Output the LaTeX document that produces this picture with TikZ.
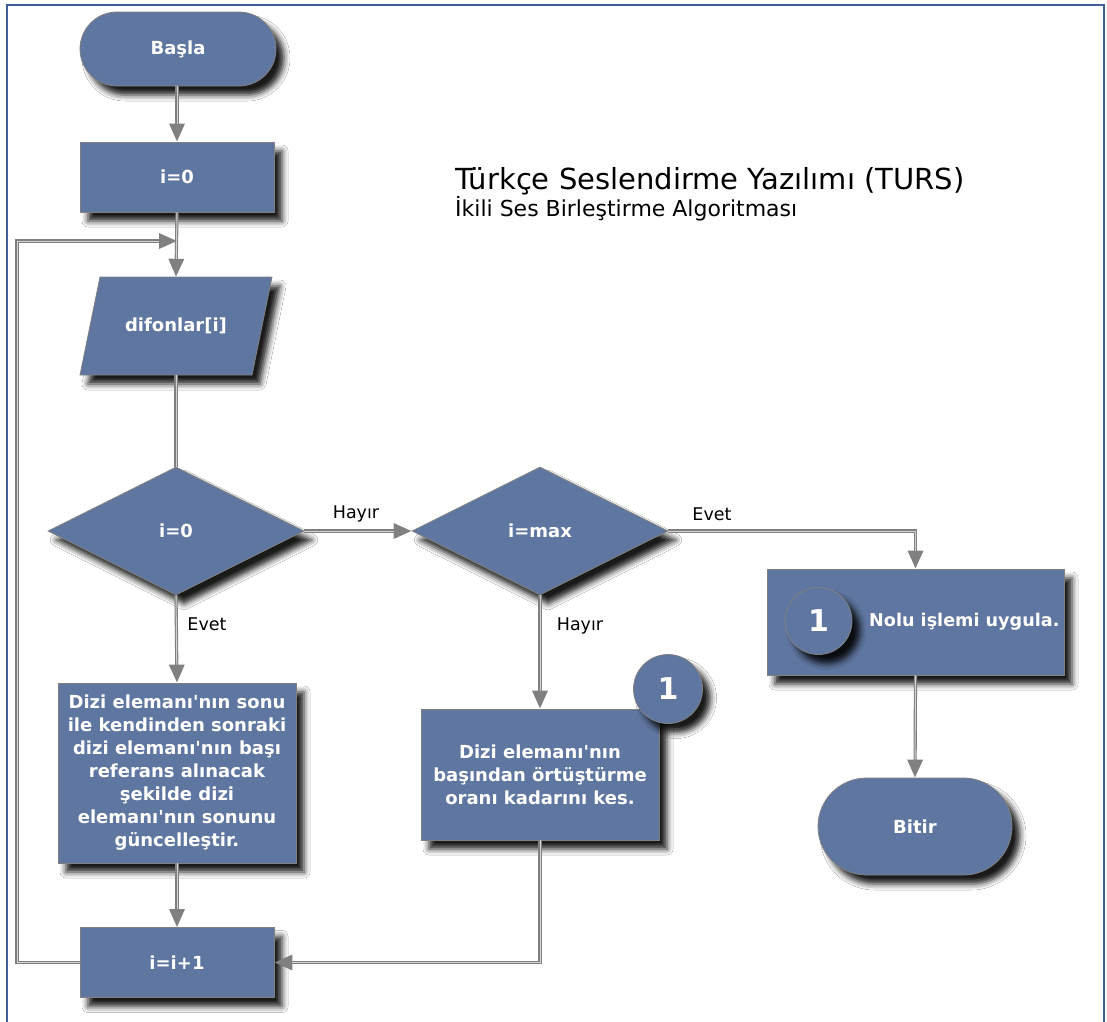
\documentclass[tikz,border=0pt]{standalone}
\usepackage{fontspec}
\setmainfont{DejaVu Sans}[Ligatures=TeXOff]
\usetikzlibrary{shapes.geometric,shapes.misc,arrows.meta,shadows.blur}
\definecolor{boxblue}{RGB}{95,118,160}
\definecolor{frameblue}{RGB}{62,96,150}
\definecolor{linegray}{RGB}{128,128,128}

\begin{document}
\begin{tikzpicture}[x=1pt,y=-1pt,
  dropshade/.style={blur shadow={shadow xshift=8pt,shadow yshift=-9pt,
      shadow blur radius=6pt,shadow opacity=90}},
  blockfill/.style={fill=boxblue,draw=linegray,line width=0.8pt,dropshade},
  block/.style={blockfill,text=white,
      font=\bfseries\fontsize{18}{23}\selectfont,align=center,inner sep=0pt},
  numcircle/.style={block,circle,font=\bfseries\fontsize{30}{30}\selectfont},
  lbl/.style={font=\fontsize{17.5}{20}\selectfont,text=black,inner sep=0pt},
  wire/.style={draw=linegray,line width=3.2pt,
      postaction={draw=gray!35,line width=1pt}},
  arrow/.style={draw=linegray,line width=3.2pt,
      -{Triangle[length=18pt,width=15pt,fill=linegray]},
      postaction={draw=gray!35,line width=1pt,-,shorten >=18pt}},
]
\useasboundingbox (0,0) rectangle (1107,1021);
\fill[white] (0,0) rectangle (1107,1021);

% page frame
\draw[frameblue,line width=2pt] (7,1030) -- (7,4.5) -- (1103.5,4.5) -- (1103.5,1030);

% title
\node[anchor=base west,inner sep=0pt,font=\fontsize{29}{31}\selectfont] (title) at (455,189) {Türkçe Seslendirme Yazılımı (TURS)};
\node[anchor=base west,inner sep=0pt,font=\fontsize{22}{24}\selectfont] (subtitle) at (455,216) {İkili Ses Birleştirme Algoritması};

% flow nodes
\node[block,rounded rectangle,minimum width=196pt,minimum height=74pt] (start) at (178,49) {Başla};
\node[block,rectangle,minimum width=194pt,minimum height=70pt] (init) at (177,177) {i=0};
% input parallelogram
\path[blockfill] (100,277) -- (272,277) -- (252,375) -- (80,375) -- cycle;
\node[rectangle,minimum width=172pt,minimum height=98pt,inner sep=0pt,text=white,
      font=\bfseries\fontsize{18}{23}\selectfont] (input) at (176,326) {difonlar[i]};
\node[block,diamond,aspect=2,minimum width=256pt,minimum height=128pt] (first) at (176,531) {i=0};
\node[block,diamond,aspect=2,minimum width=256pt,minimum height=128pt] (last) at (540,531) {i=max};
\node[block,rectangle,minimum width=238pt,minimum height=180pt] (update) at (177,773)
  {Dizi elemanı'nın sonu\\ile kendinden sonraki\\dizi elemanı'nın başı\\referans alınacak\\şekilde dizi\\elemanı'nın sonunu\\güncelleştir.};
\node[block,rectangle,minimum width=238pt,minimum height=131pt] (cut) at (540,774.5)
  {Dizi elemanı'nın\\başından örtüştürme\\oranı kadarını kes.};
\node[numcircle,minimum size=69pt] (mark) at (668,689) {1};
\node[block,rectangle,minimum width=297pt,minimum height=106pt] (apply) at (915.5,622) {};
\node[numcircle,minimum size=67pt] (applymark) at (818.5,621) {1};
\node[anchor=west,inner sep=0pt,text=white,font=\bfseries\fontsize{17.6}{20}\selectfont] (applytext) at (869,622) {Nolu işlemi uygula.};
\node[block,rounded rectangle,minimum width=194pt,minimum height=97pt] (stop) at (915,826.5) {Bitir};
\node[block,rectangle,minimum width=194pt,minimum height=70pt] (inc) at (177,962.5) {i=i+1};

% junction points
\coordinate (join) at (init.south |- 0,241);
\coordinate (loopbottom) at (17,962.5);
\coordinate (looptop) at (17,241);
\coordinate (yescorner) at (apply.north |- last.east);
\coordinate (cutcorner) at (cut.south |- inc.east);

% connectors
\draw[arrow] (start.south) -- (init.south |- start.south) -- (init.north);
\draw[arrow] (init.south) -- (input.north);
\draw[arrow] (inc.west) -- (loopbottom) -- (looptop) -- (join);
\draw[wire] (input.south) -- (first.north);
\draw[arrow] (first.east) -- (last.west);
\draw[arrow] (first.south) -- (update.north);
\draw[arrow] (last.south) -- (cut.north);
\draw[arrow] (last.east) -- (yescorner) -- (apply.north);
\draw[arrow] (apply.south) -- (stop.north);
\draw[arrow] (update.south) -- (inc.north);
\draw[arrow] (cut.south) -- (cutcorner) -- (inc.east);

% branch labels
\node[lbl] (noA) at (356,514) {Hayır};
\node[lbl] (yesA) at (712,514) {Evet};
\node[lbl] (yesB) at (207,624) {Evet};
\node[lbl] (noB) at (580,626) {Hayır};
\end{tikzpicture}
\end{document}
